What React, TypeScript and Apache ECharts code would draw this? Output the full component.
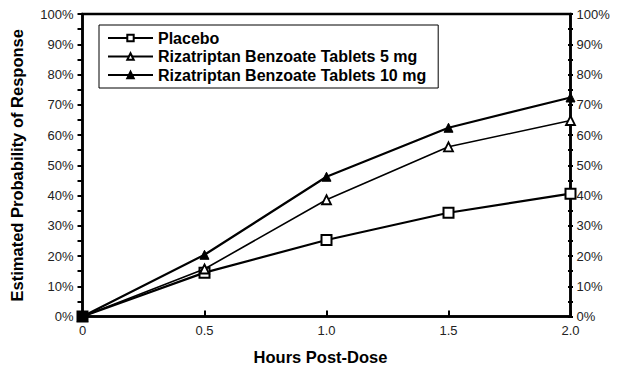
import React, { useEffect, useRef } from "react";
import * as echarts from "echarts";

const hours = [0, 0.5, 1.0, 1.5, 2.0];
const placebo = [0, 14.5, 25.3, 34.3, 40.6];
const riza5 = [0, 15.7, 38.6, 56.1, 64.8];
const riza10 = [0, 20.4, 46.2, 62.4, 72.4];
const seriesNames = [
  "Placebo",
  "Rizatriptan Benzoate Tablets 5 mg",
  "Rizatriptan Benzoate Tablets 10 mg",
];
const xTitle = "Hours Post-Dose";
const yTitle = "Estimated Probability of Response";

const FONT = "Liberation Sans, Arial, sans-serif";

export default function App() {
  const ref = useRef<HTMLDivElement>(null);
  useEffect(() => {
    if (!ref.current) return;
    const chart = echarts.init(ref.current, undefined, { renderer: "svg" });
    const pair = (arr: number[], filledFirst = false) =>
      hours.map((h, i) =>
        filledFirst && i === 0
          ? { value: [h, arr[i]], itemStyle: { color: "#000" } }
          : [h, arr[i]]
      );
    const yLabel = (v: number) => `${v}%`;
    chart.setOption({
      animation: false,
      backgroundColor: "#fff",
      textStyle: { fontFamily: FONT, color: "#000" },
      grid: {
        left: 82.5,
        right: 66.5,
        top: 14,
        bottom: 73.5,
        show: true,
        borderColor: "#000",
        borderWidth: 2.5,
        backgroundColor: "transparent",
      },
      legend: {
        orient: "vertical",
        left: 99,
        top: 25,
        padding: [5, 12, 5, 8],
        itemGap: 2.5,
        itemWidth: 45,
        itemHeight: 8,
        borderColor: "#000",
        borderWidth: 1,
        backgroundColor: "#fff",
        textStyle: { fontFamily: FONT, fontWeight: "bold", fontSize: 16, color: "#000", lineHeight: 16 },
        data: seriesNames,
      },
      xAxis: {
        type: "value",
        min: 0,
        max: 2,
        interval: 0.5,
        name: xTitle,
        nameLocation: "middle",
        nameGap: 32,
        nameTextStyle: {
          fontFamily: FONT,
          fontWeight: "bold",
          fontSize: 16.5,
          color: "#000",
          padding: [0, 12, 0, 0],
        },
        axisLine: { show: true, lineStyle: { color: "#000", width: 2.5 } },
        axisTick: { show: true, inside: true, length: 6, lineStyle: { color: "#000", width: 2 } },
        axisLabel: {
          fontFamily: FONT,
          fontSize: 13,
          color: "#222",
          margin: 7,
          formatter: (v: number) => (v === 0 ? "0" : v.toFixed(1)),
        },
        splitLine: { show: false },
      },
      yAxis: [
        {
          type: "value",
          min: 0,
          max: 100,
          interval: 10,
          position: "left",
          name: yTitle,
          nameLocation: "middle",
          nameGap: 57,
          nameRotate: 90,
          nameTextStyle: { fontFamily: FONT, fontWeight: "bold", fontSize: 16.5, color: "#000" },
          axisLine: { show: true, lineStyle: { color: "#000", width: 2.5 } },
          axisTick: { show: true, inside: false, length: 5, lineStyle: { color: "#000", width: 2 } },
          minorTick: { show: true, splitNumber: 2, length: 5, lineStyle: { color: "#000", width: 2 } },
          axisLabel: { fontFamily: FONT, fontSize: 13, color: "#222", margin: 9, formatter: yLabel },
          splitLine: { show: false },
          minorSplitLine: { show: false },
        },
        {
          type: "value",
          min: 0,
          max: 100,
          interval: 10,
          position: "right",
          axisLine: { show: true, lineStyle: { color: "#000", width: 2.5 } },
          axisTick: { show: true, inside: false, length: 2.5, lineStyle: { color: "#000", width: 2 } },
          minorTick: { show: true, splitNumber: 2, length: 2.5, lineStyle: { color: "#000", width: 2 } },
          axisLabel: { fontFamily: FONT, fontSize: 13, color: "#222", margin: 6, formatter: yLabel },
          splitLine: { show: false },
          minorSplitLine: { show: false },
        },
        {
          type: "value",
          min: 0,
          max: 100,
          interval: 10,
          position: "right",
          axisLine: { show: false },
          axisTick: { show: true, inside: true, length: 2.5, lineStyle: { color: "#000", width: 2 } },
          minorTick: { show: true, splitNumber: 2, length: 2.5, lineStyle: { color: "#000", width: 2 } },
          axisLabel: { show: false },
          splitLine: { show: false },
          minorSplitLine: { show: false },
        },
      ],
      series: [
        {
          name: seriesNames[0],
          type: "line",
          data: pair(placebo, true),
          symbol: "rect",
          symbolSize: 10,
          showAllSymbol: true,
          lineStyle: { color: "#000", width: 2.2 },
          itemStyle: { color: "#fff", borderColor: "#000", borderWidth: 2 },
          z: 2,
        },
        {
          name: seriesNames[1],
          type: "line",
          data: pair(riza5),
          symbol: "triangle",
          symbolSize: 9,
          lineStyle: { color: "#000", width: 1.6 },
          itemStyle: { color: "#fff", borderColor: "#000", borderWidth: 1.8 },
          z: 3,
        },
        {
          name: seriesNames[2],
          type: "line",
          data: pair(riza10),
          symbol: "triangle",
          symbolSize: 9,
          lineStyle: { color: "#000", width: 2.2 },
          itemStyle: { color: "#000", borderColor: "#000", borderWidth: 1 },
          z: 4,
        },
      ],
    });
    return () => chart.dispose();
  }, []);
  return <div ref={ref} style={{ width: 637, height: 390, position: "fixed", left: 0, top: 0 }} />;
}
